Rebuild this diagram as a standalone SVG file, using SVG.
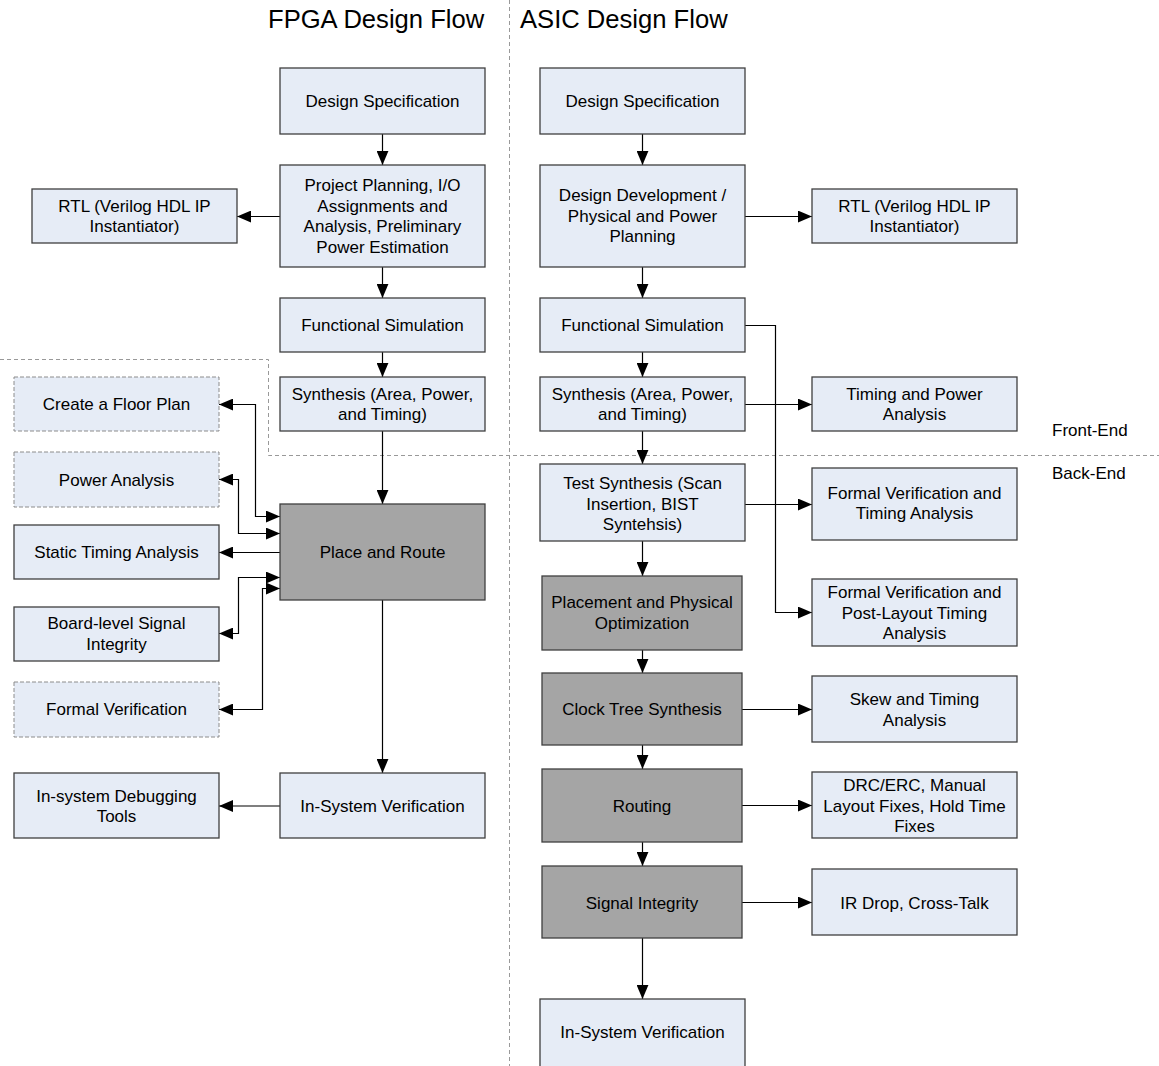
<svg xmlns="http://www.w3.org/2000/svg" width="1159" height="1066" viewBox="0 0 1159 1066">
  <defs>
    <marker id="arrow" markerUnits="userSpaceOnUse" markerWidth="14" markerHeight="12" refX="13" refY="5.5" orient="auto-start-reverse" viewBox="0 0 13 11">
      <path d="M0,0 L13,5.5 L0,11 z" fill="#000"/>
    </marker>
  </defs>
  <style>
    .box { fill: #E6ECF6; stroke: #3F3F3F; stroke-width: 1.3; }
    .dbox { fill: #E6ECF6; stroke: #8C8C8C; stroke-width: 1; stroke-dasharray: 4 2; }
    .gbox { fill: #A5A5A5; stroke: #3F3F3F; stroke-width: 1.3; }
    .lbl { font-family: "Liberation Sans", Arial, sans-serif; font-size: 17px; fill: #000; text-anchor: middle; }
    .title { font-family: "Liberation Sans", Arial, sans-serif; font-size: 25.6px; fill: #000; }
    .side { font-family: "Liberation Sans", Arial, sans-serif; font-size: 17px; fill: #000; }
    .conn { fill: none; stroke: #000; stroke-width: 1.2; }
    .arr { marker-end: url(#arrow); }
    .both { marker-start: url(#arrow); marker-end: url(#arrow); }
    .divider { fill: none; stroke: #999; stroke-width: 1; stroke-dasharray: 4 3; }
  </style>

  <rect width="1159" height="1066" fill="#fff"/>

  <!-- region dividers -->
  <g id="dividers">
    <path class="divider" d="M509.5,0 V1066"/>
    <path class="divider" d="M0,359.5 H268.5 V455.5 H1159"/>
  </g>

  <!-- headings -->
  <g id="headings">
    <text class="title" x="268" y="28">FPGA Design Flow</text>
    <text class="title" x="520" y="28">ASIC Design Flow</text>
    <text class="side" x="1052" y="436">Front-End</text>
    <text class="side" x="1052" y="479">Back-End</text>
  </g>

  <!-- connectors -->
  <g id="connectors">
    <!-- FPGA flow -->
    <path class="conn arr" d="M382.5,134 V165"/>
    <path class="conn arr" d="M382.5,267 V298"/>
    <path class="conn arr" d="M382.5,352 V377"/>
    <path class="conn arr" d="M382.5,431 V504"/>
    <path class="conn arr" d="M382.5,600 V773"/>
    <path class="conn arr" d="M280,216.5 H237"/>
    <path class="conn arr" d="M280,806 H219"/>
    <path class="conn both" d="M219,404.5 H255.5 V516.5 H280"/>
    <path class="conn both" d="M219,479.5 H238.5 V533.5 H280"/>
    <path class="conn arr" d="M280,552.5 H219"/>
    <path class="conn both" d="M219,633.5 H238.5 V577.5 H280"/>
    <path class="conn both" d="M219,709.5 H262.5 V588.5 H280"/>

    <!-- ASIC flow -->
    <path class="conn arr" d="M642.5,134 V165"/>
    <path class="conn arr" d="M642.5,267 V298"/>
    <path class="conn arr" d="M642.5,352 V377"/>
    <path class="conn arr" d="M642.5,431 V464"/>
    <path class="conn arr" d="M642.5,541 V576"/>
    <path class="conn arr" d="M642.5,650 V673"/>
    <path class="conn arr" d="M642.5,745 V769"/>
    <path class="conn arr" d="M642.5,842 V866"/>
    <path class="conn arr" d="M642.5,938 V999"/>
    <path class="conn arr" d="M745,216.5 H812"/>
    <path class="conn arr" d="M745,325.5 H775.5 V612.5 H812"/>
    <path class="conn arr" d="M745,404.5 H812"/>
    <path class="conn arr" d="M745,504.5 H812"/>
    <path class="conn arr" d="M742,709.5 H812"/>
    <path class="conn arr" d="M742,805.5 H812"/>
    <path class="conn arr" d="M742,902.5 H812"/>
  </g>

  <!-- FPGA column -->
  <g id="fpga-spec">
    <rect class="box" x="280" y="68" width="205" height="66"/>
    <text class="lbl" x="382.5" y="107">Design Specification</text>
  </g>
  <g id="fpga-planning">
    <rect class="box" x="280" y="165" width="205" height="102"/>
    <text class="lbl" x="382.5" y="191">Project Planning, I/O</text>
    <text class="lbl" x="382.5" y="211.5">Assignments and</text>
    <text class="lbl" x="382.5" y="232">Analysis, Preliminary</text>
    <text class="lbl" x="382.5" y="252.5">Power Estimation</text>
  </g>
  <g id="fpga-rtl">
    <rect class="box" x="32" y="189" width="205" height="54"/>
    <text class="lbl" x="134.5" y="211.5">RTL (Verilog HDL IP</text>
    <text class="lbl" x="134.5" y="232">Instantiator)</text>
  </g>
  <g id="fpga-funcsim">
    <rect class="box" x="280" y="298" width="205" height="54"/>
    <text class="lbl" x="382.5" y="331">Functional Simulation</text>
  </g>
  <g id="fpga-synthesis">
    <rect class="box" x="280" y="377" width="205" height="54"/>
    <text class="lbl" x="382.5" y="399.5">Synthesis (Area, Power,</text>
    <text class="lbl" x="382.5" y="420">and Timing)</text>
  </g>
  <g id="fpga-place-route">
    <rect class="gbox" x="280" y="504" width="205" height="96"/>
    <text class="lbl" x="382.5" y="558">Place and Route</text>
  </g>
  <g id="fpga-floorplan">
    <rect class="dbox" x="14" y="377" width="205" height="54"/>
    <text class="lbl" x="116.5" y="410">Create a Floor Plan</text>
  </g>
  <g id="fpga-power">
    <rect class="dbox" x="14" y="452" width="205" height="55"/>
    <text class="lbl" x="116.5" y="485.5">Power Analysis</text>
  </g>
  <g id="fpga-sta">
    <rect class="box" x="14" y="525" width="205" height="54"/>
    <text class="lbl" x="116.5" y="558">Static Timing Analysis</text>
  </g>
  <g id="fpga-board-si">
    <rect class="box" x="14" y="607" width="205" height="54"/>
    <text class="lbl" x="116.5" y="629">Board-level Signal</text>
    <text class="lbl" x="116.5" y="649.5">Integrity</text>
  </g>
  <g id="fpga-formal">
    <rect class="dbox" x="14" y="682" width="205" height="55"/>
    <text class="lbl" x="116.5" y="715">Formal Verification</text>
  </g>
  <g id="fpga-isv">
    <rect class="box" x="280" y="773" width="205" height="65"/>
    <text class="lbl" x="382.5" y="811.5">In-System Verification</text>
  </g>
  <g id="fpga-debug">
    <rect class="box" x="14" y="773" width="205" height="65"/>
    <text class="lbl" x="116.5" y="801.5">In-system Debugging</text>
    <text class="lbl" x="116.5" y="822">Tools</text>
  </g>

  <!-- ASIC column -->
  <g id="asic-spec">
    <rect class="box" x="540" y="68" width="205" height="66"/>
    <text class="lbl" x="642.5" y="107">Design Specification</text>
  </g>
  <g id="asic-development">
    <rect class="box" x="540" y="165" width="205" height="102"/>
    <text class="lbl" x="642.5" y="201">Design Development /</text>
    <text class="lbl" x="642.5" y="221.5">Physical and Power</text>
    <text class="lbl" x="642.5" y="242">Planning</text>
  </g>
  <g id="asic-rtl">
    <rect class="box" x="812" y="189" width="205" height="54"/>
    <text class="lbl" x="914.5" y="211.5">RTL (Verilog HDL IP</text>
    <text class="lbl" x="914.5" y="232">Instantiator)</text>
  </g>
  <g id="asic-funcsim">
    <rect class="box" x="540" y="298" width="205" height="54"/>
    <text class="lbl" x="642.5" y="331">Functional Simulation</text>
  </g>
  <g id="asic-synthesis">
    <rect class="box" x="540" y="377" width="205" height="54"/>
    <text class="lbl" x="642.5" y="399.5">Synthesis (Area, Power,</text>
    <text class="lbl" x="642.5" y="420">and Timing)</text>
  </g>
  <g id="asic-timing-power">
    <rect class="box" x="812" y="377" width="205" height="54"/>
    <text class="lbl" x="914.5" y="399.5">Timing and Power</text>
    <text class="lbl" x="914.5" y="420">Analysis</text>
  </g>
  <g id="asic-test-synthesis">
    <rect class="box" x="540" y="464" width="205" height="77"/>
    <text class="lbl" x="642.5" y="489">Test Synthesis (Scan</text>
    <text class="lbl" x="642.5" y="509.5">Insertion, BIST</text>
    <text class="lbl" x="642.5" y="530">Syntehsis)</text>
  </g>
  <g id="asic-formal-timing">
    <rect class="box" x="812" y="468" width="205" height="72"/>
    <text class="lbl" x="914.5" y="498.5">Formal Verification and</text>
    <text class="lbl" x="914.5" y="519">Timing Analysis</text>
  </g>
  <g id="asic-placement">
    <rect class="gbox" x="542" y="576" width="200" height="74"/>
    <text class="lbl" x="642" y="608">Placement and Physical</text>
    <text class="lbl" x="642" y="628.5">Optimization</text>
  </g>
  <g id="asic-formal-postlayout">
    <rect class="box" x="812" y="579" width="205" height="67"/>
    <text class="lbl" x="914.5" y="598">Formal Verification and</text>
    <text class="lbl" x="914.5" y="618.5">Post-Layout Timing</text>
    <text class="lbl" x="914.5" y="639">Analysis</text>
  </g>
  <g id="asic-cts">
    <rect class="gbox" x="542" y="673" width="200" height="72"/>
    <text class="lbl" x="642" y="715">Clock Tree Synthesis</text>
  </g>
  <g id="asic-skew">
    <rect class="box" x="812" y="676" width="205" height="66"/>
    <text class="lbl" x="914.5" y="705">Skew and Timing</text>
    <text class="lbl" x="914.5" y="725.5">Analysis</text>
  </g>
  <g id="asic-routing">
    <rect class="gbox" x="542" y="769" width="200" height="73"/>
    <text class="lbl" x="642" y="811.5">Routing</text>
  </g>
  <g id="asic-drc">
    <rect class="box" x="812" y="772" width="205" height="66"/>
    <text class="lbl" x="914.5" y="791">DRC/ERC, Manual</text>
    <text class="lbl" x="914.5" y="811.5">Layout Fixes, Hold Time</text>
    <text class="lbl" x="914.5" y="832">Fixes</text>
  </g>
  <g id="asic-si">
    <rect class="gbox" x="542" y="866" width="200" height="72"/>
    <text class="lbl" x="642" y="908.5">Signal Integrity</text>
  </g>
  <g id="asic-ir">
    <rect class="box" x="812" y="869" width="205" height="66"/>
    <text class="lbl" x="914.5" y="908.5">IR Drop, Cross-Talk</text>
  </g>
  <g id="asic-isv">
    <rect class="box" x="540" y="999" width="205" height="80"/>
    <text class="lbl" x="642.5" y="1038">In-System Verification</text>
  </g>
</svg>
